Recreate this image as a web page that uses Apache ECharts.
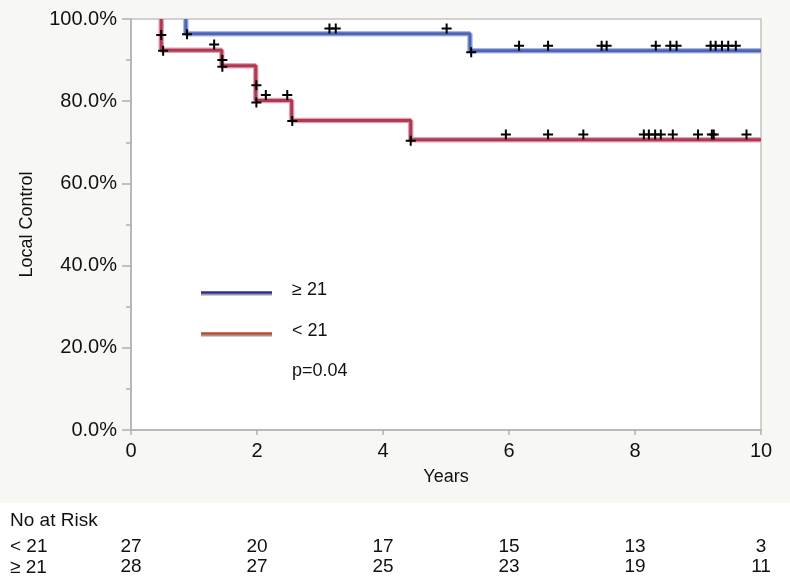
<!DOCTYPE html>
<html>
<head>
<meta charset="utf-8">
<script src="https://cdn.jsdelivr.net/npm/echarts@6/dist/echarts.min.js"></script>
<style>html,body{margin:0;padding:0;background:#fff}#c{width:790px;height:577px}</style>
</head>
<body>
<div id="c"></div>
<script>
// ---- data ----
const xTicks = [0, 2, 4, 6, 8, 10];
const redStepT = [0.48, 0.48, 1.44, 1.98, 2.55, 4.44, 10];
const redStepS = [100, 92.4, 88.6, 80.2, 75.3, 70.6, 70.6];
const blueStepT = [0.87, 0.87, 5.38, 10];
const blueStepS = [100, 96.4, 92.3, 92.3];
const redMarkT = [0.48, 0.51, 1.32, 1.45, 1.45, 1.99, 1.99, 2.14, 2.48, 2.56, 4.44, 5.95, 6.62, 7.18, 8.14, 8.22, 8.32, 8.41, 8.60, 9.00, 9.22, 9.25, 9.77];
const redMarkS = [96.1, 92.3, 93.8, 90.0, 88.4, 83.9, 79.7, 81.5, 81.5, 75.2, 70.4, 71.9, 71.9, 71.9, 71.9, 71.9, 71.9, 71.9, 71.9, 71.9, 71.9, 71.9, 71.9];
const blueMarkT = [0.89, 3.15, 3.25, 5.01, 5.40, 6.16, 6.62, 7.47, 7.55, 8.33, 8.56, 8.66, 9.20, 9.28, 9.38, 9.48, 9.60];
const blueMarkS = [96.3, 97.7, 97.7, 97.7, 91.9, 93.5, 93.5, 93.5, 93.5, 93.5, 93.5, 93.5, 93.5, 93.5, 93.5, 93.5, 93.5];
const riskRows = ['≥ 21', '< 21'];
const riskLt21 = [27, 20, 17, 15, 13, 3];
const riskGe21 = [28, 27, 25, 23, 19, 11];
const legendLabels = ['≥ 21', '< 21'];
const pText = 'p=0.04';

const zip = (a, b) => a.map((v, i) => [v, b[i]]);
const FONT = '"Liberation Sans", Arial, Helvetica, sans-serif';
const TXT = '#111111';
const PLUS = 'path://M4,0H6V4H10V6H6V10H4V6H0V4H4Z';

const chart = echarts.init(document.getElementById('c'), null, {renderer: 'canvas'});
const riskData = [];
xTicks.forEach((t, i) => {
  riskData.push({value: [t, '< 21'], label: {formatter: String(riskLt21[i])}});
  riskData.push({value: [t, '≥ 21'], label: {formatter: String(riskGe21[i])}});
});

const option = {
  animation: false,
  backgroundColor: {
    type: 'linear', x: 0, y: 0, x2: 0, y2: 1,
    colorStops: [
      {offset: 0, color: '#f7f7f4'}, {offset: 0.872, color: '#f7f7f4'},
      {offset: 0.872, color: '#ffffff'}, {offset: 1, color: '#ffffff'}
    ]
  },
  textStyle: {fontFamily: FONT},
  grid: [
    {left: 131, right: 29, top: 19, bottom: 147, show: true, backgroundColor: '#ffffff', borderColor: '#c4c4c4', borderWidth: 1.5},
    {left: 131, right: 29, top: 537, height: 42}
  ],
  xAxis: [
    {
      gridIndex: 0, type: 'value', min: 0, max: 10, interval: 2,
      name: 'Years', nameLocation: 'middle', nameGap: 38,
      nameTextStyle: {fontSize: 18, color: TXT, fontFamily: FONT},
      axisLine: {lineStyle: {color: '#b0b0b0', width: 1.5}},
      axisTick: {show: true, length: 5, lineStyle: {color: '#b0b0b0', width: 1.5}},
      axisLabel: {fontSize: 20, color: TXT, margin: 11, fontFamily: FONT},
      splitLine: {show: false}
    },
    {
      gridIndex: 1, type: 'value', min: 0, max: 10, interval: 2, show: false
    }
  ],
  yAxis: [
    {
      gridIndex: 0, type: 'value', min: 0, max: 100, interval: 20,
      name: 'Local Control', nameLocation: 'middle', nameGap: 95, nameRotate: 90,
      nameTextStyle: {fontSize: 18, color: TXT, fontFamily: FONT},
      axisLine: {show: true, lineStyle: {color: '#b0b0b0', width: 1.5}},
      axisTick: {show: true, length: 9, lineStyle: {color: '#b0b0b0', width: 1.5}},
      minorTick: {show: true, splitNumber: 2, length: 5, lineStyle: {color: '#b0b0b0', width: 1.5}},
      axisLabel: {fontSize: 20, color: TXT, margin: 14, fontFamily: FONT, formatter: v => v.toFixed(1) + '%'},
      splitLine: {show: false}
    },
    {
      gridIndex: 1, type: 'category', data: riskRows, show: false
    }
  ],
  series: [
    {type: 'line', step: 'end', data: zip(redStepT, redStepS), symbol: 'none', lineStyle: {color: '#dca6b1', width: 5.5}, z: 2, silent: true},
    {type: 'line', step: 'end', data: zip(redStepT, redStepS), symbol: 'none', lineStyle: {color: '#b13753', width: 3}, z: 3, silent: true},
    {type: 'line', step: 'end', data: zip(blueStepT, blueStepS), symbol: 'none', lineStyle: {color: '#a9b6e0', width: 5.5}, z: 2, silent: true},
    {type: 'line', step: 'end', data: zip(blueStepT, blueStepS), symbol: 'none', lineStyle: {color: '#4b64b6', width: 3}, z: 3, silent: true},
    {type: 'scatter', data: zip(redMarkT, redMarkS), symbol: PLUS, symbolSize: 10, itemStyle: {color: '#000', opacity: 1}, z: 5},
    {type: 'scatter', data: zip(blueMarkT, blueMarkS), symbol: PLUS, symbolSize: 10, itemStyle: {color: '#000', opacity: 1}, z: 5},
    {
      type: 'scatter', xAxisIndex: 1, yAxisIndex: 1, data: riskData, symbolSize: 0,
      itemStyle: {opacity: 1},
      label: {show: true, position: 'inside', fontSize: 19, color: TXT, opacity: 1, fontFamily: FONT}
    }
  ],
  graphic: [
    {type: 'line', shape: {x1: 201, y1: 294.5, x2: 272, y2: 294.5}, style: {stroke: '#9a9a9a', lineWidth: 2}},
    {type: 'line', shape: {x1: 201, y1: 292.5, x2: 272, y2: 292.5}, style: {stroke: '#2b2f8e', lineWidth: 2.5}},
    {type: 'line', shape: {x1: 201, y1: 335.5, x2: 272, y2: 335.5}, style: {stroke: '#9a9a9a', lineWidth: 2}},
    {type: 'line', shape: {x1: 201, y1: 333.5, x2: 272, y2: 333.5}, style: {stroke: '#c2442a', lineWidth: 2.5}},
    {type: 'text', left: 292, top: 281, style: {text: legendLabels[0], fontSize: 18, fill: TXT, fontFamily: FONT}},
    {type: 'text', left: 292, top: 322, style: {text: legendLabels[1], fontSize: 18, fill: TXT, fontFamily: FONT}},
    {type: 'text', left: 292, top: 362, style: {text: pText, fontSize: 18, fill: TXT, fontFamily: FONT}},
    {type: 'text', left: 10, top: 511, style: {text: 'No at Risk', fontSize: 19, fill: TXT, fontFamily: FONT}},
    {type: 'text', left: 10, top: 537, style: {text: '< 21', fontSize: 19, fill: TXT, fontFamily: FONT}},
    {type: 'text', left: 10, top: 558, style: {text: '≥ 21', fontSize: 19, fill: TXT, fontFamily: FONT}}
  ]
};
chart.setOption(option);
</script>
</body>
</html>
